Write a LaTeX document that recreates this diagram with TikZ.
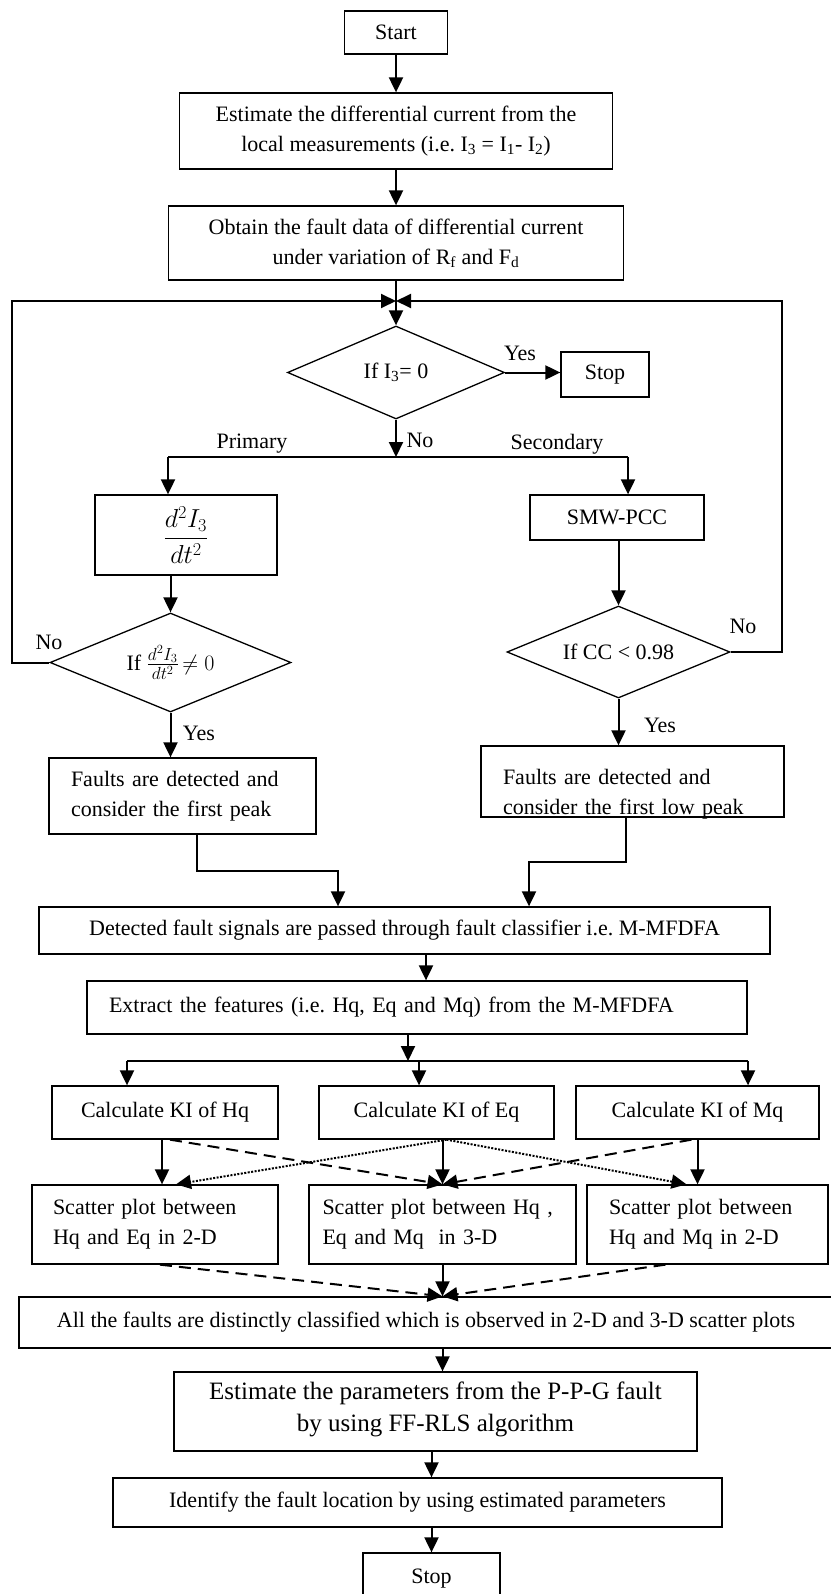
\RequirePackage{fix-cm}
\documentclass[tikz,border=0pt]{standalone}
\usepackage{amsmath}
\usepackage{fontspec}
\setmainfont{Liberation Serif}
\usetikzlibrary{arrows.meta,shapes.geometric}
\frenchspacing

\begin{document}
\begin{tikzpicture}[x=1pt,y=-1pt,
    box/.style={draw,line width=1.3pt,inner sep=0pt,align=center,font=\fontsize{22}{30}\selectfont},
    lbox/.style={box,align=left,inner xsep=22pt},
    dia/.style={draw,diamond,line width=1.3pt,inner sep=0pt,font=\fontsize{22}{30}\selectfont},
    lbl/.style={inner sep=0pt,font=\fontsize{22}{26}\selectfont},
    arr/.style={line width=2pt,-{Triangle[length=15pt,width=14pt]}},
    ln/.style={line width=2pt}]

    \useasboundingbox (0,0) rectangle (830,1594);

    %steps
    \node[box,minimum width=103pt,minimum height=43pt] (start) at (396,32.5) {Start};
    \node[box,minimum width=433pt,minimum height=76pt] (est) at (396,131) {Estimate the differential current from the\\local measurements (i.e. I\textsubscript{3} = I\textsubscript{1}- I\textsubscript{2})};
    \node[box,minimum width=455pt,minimum height=74pt] (obtain) at (396,243) {Obtain the fault data of differential current\\under variation of R\textsubscript{f} and F\textsubscript{d}};
    \node[dia,minimum width=217pt,minimum height=93pt,aspect=2.33] (chk) at (396,372.5) {If I\textsubscript{3}= 0};
    \node[box,minimum width=88pt,minimum height=45pt] (stopa) at (605,374.5) {Stop};
    \node[box,minimum width=182pt,minimum height=80pt,font=\fontsize{26}{30}\selectfont] (deriv) at (186,535) {$\dfrac{d^2I_3}{dt^2}$};
    \node[box,minimum width=174pt,minimum height=45pt] (smw) at (617,517.5) {SMW-PCC};
    \node[dia,minimum width=241pt,minimum height=99pt,aspect=2.43] (chkd) at (170.5,662.5) {If {\fontsize{25}{30}\selectfont$\frac{d^2I_3}{dt^2}$}$\,\neq 0$};
    \node[dia,minimum width=223pt,minimum height=92pt,aspect=2.42] (chkcc) at (618.5,652) {If CC < 0.98};
    \node[lbox,text width=223pt,minimum height=76pt] (peaka) at (182.5,796) {Faults are detected and\\consider the first peak};
    \node[lbox,text width=259pt,minimum height=71pt,text depth=9pt] (peakb) at (632.5,781.5) {Faults are detected and\\consider the first low peak};
    \node[box,minimum width=731pt,minimum height=47pt] (mfdfa) at (404.5,930.5) {Detected fault signals are passed through fault classifier i.e. M-MFDFA};
    \node[lbox,text width=616pt,minimum height=53pt] (feat) at (417,1007.5) {Extract the features (i.e. Hq, Eq and Mq) from the M-MFDFA};
    \node[box,minimum width=226pt,minimum height=53pt] (kih) at (165,1112.5) {Calculate KI of Hq};
    \node[box,minimum width=235pt,minimum height=53pt] (kie) at (436.5,1112.5) {Calculate KI of Eq};
    \node[box,minimum width=243pt,minimum height=53pt] (kim) at (697.5,1112.5) {Calculate KI of Mq};
    \node[lbox,text width=204pt,inner xsep=21pt,minimum height=79pt] (sche) at (155,1224.5) {Scatter plot between\\Hq and Eq in 2-D};
    \node[lbox,text width=240pt,inner xsep=13.5pt,minimum height=79pt] (schem) at (442.5,1224.5) {Scatter plot between Hq ,\\Eq and Mq\ \ in 3-D};
    \node[lbox,text width=197pt,minimum height=79pt] (schm) at (707.5,1224.5) {Scatter plot between\\Hq and Mq in 2-D};
    \node[box,minimum width=814pt,minimum height=51pt] (allf) at (426,1322.5) {All the faults are distinctly classified which is observed in 2-D and 3-D scatter plots};
    \node[box,minimum width=523pt,minimum height=79pt,font=\fontsize{25}{32}\selectfont,text depth=10pt] (param) at (435.5,1411.5) {Estimate the parameters from the P-P-G fault\\by using FF-RLS algorithm};
    \node[box,minimum width=609pt,minimum height=49pt] (loc) at (417.5,1502.5) {Identify the fault location by using estimated parameters};
    \node[box,minimum width=137pt,minimum height=52pt] (stopb) at (431.5,1579) {Stop};

    %labels
    \node[lbl] (yesa) at (520,353) {Yes};
    \node[lbl] (noa) at (420,440) {No};
    \node[lbl] (prim) at (252,444) {Primary};
    \node[lbl] (sec) at (557,444) {Secondary};
    \node[lbl] (nob) at (49,642) {No};
    \node[lbl] (noc) at (743,626) {No};
    \node[lbl] (yesb) at (199,733) {Yes};
    \node[lbl] (yesc) at (660,725) {Yes};

    %corners
    \coordinate (merge) at (396,301);
    \coordinate (lft) at (12,301);
    \coordinate (rgt) at (782,301);
    \coordinate (split) at (396,457);
    \coordinate (spl) at (168,457);
    \coordinate (spr) at (628,457);
    \coordinate (ja) at (197,871);
    \coordinate (jb) at (338,871);
    \coordinate (jc) at (626,862);
    \coordinate (jd) at (529,862);
    \coordinate (kj) at (408,1061);
    \coordinate (kl) at (127,1061);
    \coordinate (km) at (419,1061);
    \coordinate (kr) at (748,1061);

    %main line
    \draw[arr] (start) -- (est);
    \draw[arr] (est) -- (obtain);
    \draw[arr] (obtain) -- (chk);
    \draw[arr] (chk.east) -- (chk.east -| stopa.west);
    \draw[arr] (chk.south) -- (split);

    %loop back
    \draw[arr] (chkd.west) -| (lft) -- (merge);
    \draw[arr] (chkcc.east) -| (rgt) -- (merge);

    %branches
    \draw[ln] (spl) -- (spr);
    \draw[arr] (spl) -- (spl |- deriv.north);
    \draw[arr] (spr) -- (spr |- smw.north);
    \draw[arr] (deriv.south -| chkd.north) -- (chkd.north);
    \draw[arr] (smw.south -| chkcc.north) -- (chkcc.north);
    \draw[arr] (chkd.south) -- (peaka.north -| chkd.south);
    \draw[arr] (chkcc.south) -- (peakb.north -| chkcc.south);
    \draw[arr] (peaka.south -| ja) -- (ja) -- (jb) -- (jb |- mfdfa.north);
    \draw[arr] (peakb.south -| jc) -- (jc) -- (jd) -- (jd |- mfdfa.north);

    %classifier
    \draw[arr] ([xshift=21.5pt]mfdfa.south) -- ([xshift=21.5pt]mfdfa.south |- feat.north);
    \draw[arr] (feat.south -| kj) -- (kj);
    \draw[ln] (kl) -- (kr);
    \draw[arr] (kl) -- (kl |- kih.north);
    \draw[arr] (km) -- (km |- kie.north);
    \draw[arr] (kr) -- (kr |- kim.north);

    %scatter plots
    \draw[arr] ([xshift=-3pt]kih.south) -- ([xshift=-3pt]kih.south |- sche.north);
    \draw[arr] (kie.south -| schem.north) -- (schem.north);
    \draw[arr] (kim.south) -- (kim.south |- schm.north);
    \draw[arr,dash pattern=on 12pt off 7pt] ([xshift=5pt]kih.south) -- (schem.north);
    \draw[arr,dash pattern=on 12pt off 7pt] ([xshift=-6pt]kim.south) -- (schem.north);
    \draw[arr,dash pattern=on 2pt off 1.5pt] ([xshift=10pt]kie.south) -- ([xshift=21pt]sche.north);
    \draw[arr,dash pattern=on 2pt off 1.5pt] ([xshift=10pt]kie.south) -- ([xshift=-21pt]schm.north);

    %classified
    \draw[arr] (schem.south) -- (schem.south |- allf.north);
    \draw[arr,dash pattern=on 12pt off 7pt] ([xshift=5pt]sche.south) -- (schem.south |- allf.north);
    \draw[arr,dash pattern=on 12pt off 7pt] ([xshift=-42pt]schm.south) -- (schem.south |- allf.north);
    \draw[arr] (allf.south -| schem.south) -- (param.north -| schem.south);
    \draw[arr] (param.south -| stopb.north) -- (loc.north -| stopb.north);
    \draw[arr] (loc.south -| stopb.north) -- (stopb.north);
\end{tikzpicture}
\end{document}
